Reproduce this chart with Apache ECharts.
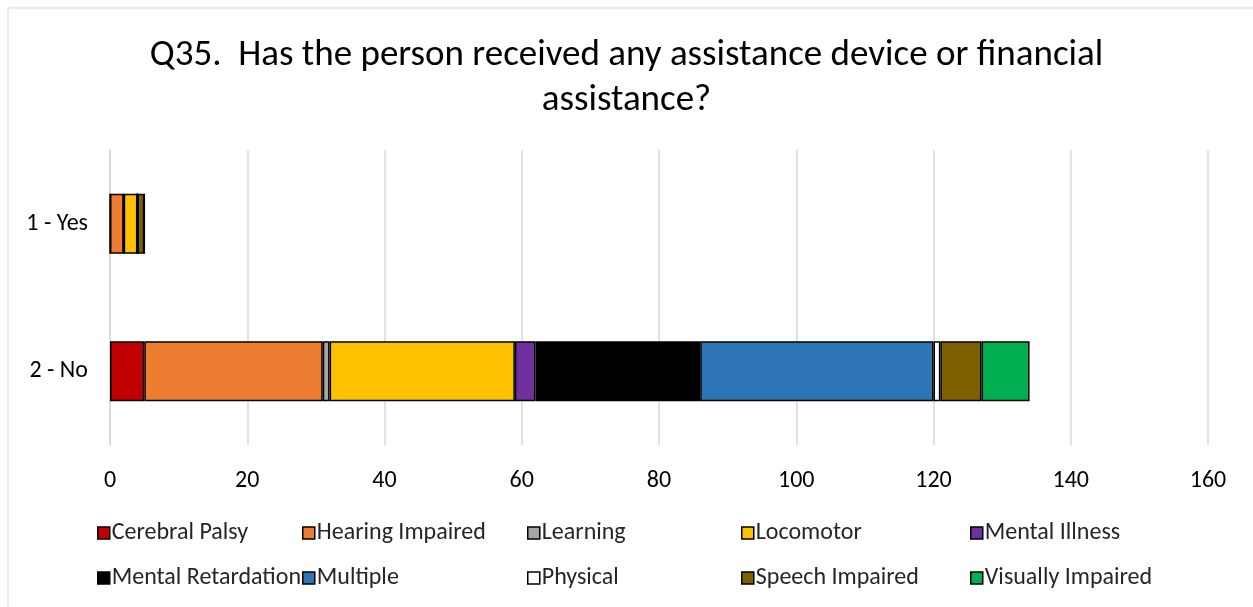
<!DOCTYPE html>
<html>
<head>
  <meta charset="UTF-8">
  <title>Q35</title>
  <script src="https://cdn.jsdelivr.net/npm/echarts@6/dist/echarts.min.js"></script>
  <style>
    body { margin: 0; background: #fff; }
    #main { width: 1253px; height: 607px; }
  </style>
</head>
<body>
<div id="main"></div>
<script>
  // ---- data ----
  const categories = ['1 - Yes', '2 - No'];
  const seriesNames = ['Cerebral Palsy', 'Hearing Impaired', 'Learning', 'Locomotor', 'Mental Illness',
    'Mental Retardation', 'Multiple', 'Physical', 'Speech Impaired', 'Visually Impaired'];
  const yesValues = [0, 2, 0, 2, 0, 0, 0, 0, 1, 0];
  const noValues = [5, 26, 1, 27, 3, 24, 34, 1, 6, 7];
  const colors = ['#c00000', '#ed7d31', '#a5a5a5', '#ffc000', '#7030a0',
    '#000000', '#2e75b6', '#ffffff', '#7f6000', '#00b050'];
  const xTicks = [0, 160, 20];

  const font = 'Carlito, Calibri, "Liberation Sans", sans-serif';
  const chart = echarts.init(document.getElementById('main'), null, {renderer: 'canvas'});

  const series = seriesNames.map((name, i) => ({
    name: name,
    type: 'bar',
    stack: 'total',
    barWidth: 60,
    itemStyle: {color: colors[i], borderColor: '#000', borderWidth: 1.5},
    data: [yesValues[i], noValues[i]]
  }));

  // legend: 5 columns, 2 rows
  const colX = [92, 297, 522, 736, 965];
  const legends = colX.map((x, c) => ({
    orient: 'vertical',
    left: x,
    top: 516,
    itemGap: 21,
    itemWidth: 12,
    itemHeight: 12,
    icon: 'rect',
    textStyle: {fontFamily: font, fontSize: 24, color: '#262626', padding: [0, 0, 0, -3]},
    itemStyle: {borderColor: '#000', borderWidth: 1.5},
    data: [seriesNames[c], seriesNames[c + 5]]
  }));

  chart.setOption({
    animation: false,
    backgroundColor: '#fff',
    title: {
      text: 'Q35.  Has the person received any assistance device or financial\nassistance?',
      left: 'center',
      top: 28,
      textStyle: {fontFamily: font, fontSize: 37, fontWeight: 'normal', color: '#000', lineHeight: 45}
    },
    graphic: [{
      type: 'rect',
      shape: {x: 8, y: 8, width: 1250, height: 610},
      style: {fill: 'none', stroke: '#d9d9d9', lineWidth: 1}
    }],
    legend: legends,
    grid: {left: 110, right: 45, top: 150, bottom: 162},
    xAxis: {
      type: 'value',
      min: xTicks[0],
      max: xTicks[1],
      interval: xTicks[2],
      axisLine: {show: false},
      axisTick: {show: false},
      splitLine: {lineStyle: {color: '#d9d9d9', width: 1.5}},
      axisLabel: {fontFamily: font, fontSize: 24, color: '#000', margin: 24}
    },
    yAxis: {
      type: 'category',
      data: categories,
      inverse: true,
      axisLine: {lineStyle: {color: '#d9d9d9', width: 1.5}},
      axisTick: {show: false},
      axisLabel: {fontFamily: font, fontSize: 24, color: '#000', margin: 22}
    },
    series: series
  });
</script>
</body>
</html>
